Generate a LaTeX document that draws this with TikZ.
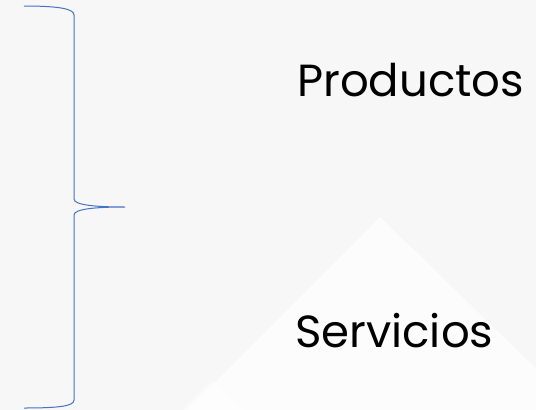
\documentclass[tikz,border=0pt]{standalone}
\usepackage{fontspec}
\setmainfont{Poppins}
\definecolor{bracecol}{HTML}{4472C4}
\definecolor{backcol}{HTML}{F7F7F7}

\tikzset{
  label/.style={font=\fontsize{45}{50}\selectfont, anchor=base west, inner sep=0pt},
  bracepath/.style={draw=bracecol, line width=1pt},
}

\begin{document}
\begin{tikzpicture}[x=1pt,y=-1pt]
    \useasboundingbox (0,0) rectangle (536,410);
    %% Background and faint peaks
    \begin{scope}
      \clip (0,0) rectangle (536,410);
      \fill[backcol] (0,0) rectangle (536,410);
      \fill[white, opacity=.7] (187,410) -- (380,217) -- (560,392) -- (560,410) -- cycle;
      \fill[white, opacity=.5] (183,410) -- (213,380) -- (243,410) -- cycle;
    \end{scope}
    %% Draw the labels
    \node[label] (prod) at (297,96) {Productos};
    \node[label] (serv) at (295,347) {Servicios};
    %% Draw the brace
    \coordinate (top) at (24,6);
    \coordinate (tip) at (125,207);
    \coordinate (bot) at (24,408);
    \draw[bracepath] (top) .. controls (60,6) and (74,9) .. (74,15)
      -- (74,199) .. controls (74,205) and (95,207) .. (tip)
      .. controls (95,207) and (74,209) .. (74,215)
      -- (74,400) .. controls (74,406) and (60,408) .. (bot);
\end{tikzpicture}
\end{document}
